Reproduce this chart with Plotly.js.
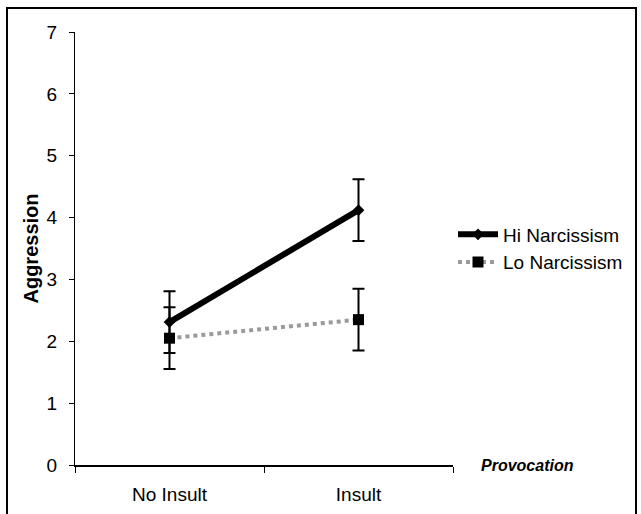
<!DOCTYPE html>
<html><head><meta charset="utf-8">
<script src="https://cdn.plot.ly/plotly-3.0.1.min.js"></script>
<style>body{margin:0;padding:0;background:#fff;} #wrap{position:relative;width:641px;height:514px;} #frame{position:absolute;left:6px;top:7px;width:627px;height:520px;border:2px solid #000;pointer-events:none;}</style>
</head><body>
<div id="wrap"><div id="chart" style="width:641px;height:514px;"></div><div id="frame"></div></div>
<script>
const categories = ["No Insult", "Insult"];
const hiValues = [2.31, 4.12];
const hiErrors = [0.5, 0.5];
const loValues = [2.05, 2.35];
const loErrors = [0.5, 0.5];
const yTicks = [0, 1, 2, 3, 4, 5, 6, 7];

const font = "Liberation Sans, Arial, sans-serif";
const traces = [
  {x: categories, y: hiValues, name: "Hi Narcissism", type: "scatter", mode: "lines+markers",
   line: {color: "#000", width: 6}, marker: {symbol: "diamond", size: 9, color: "#000"},
   error_y: {type: "data", array: hiErrors, visible: true, color: "#000", thickness: 2, width: 6}},
  {x: categories, y: loValues, name: "Lo Narcissism", type: "scatter", mode: "lines+markers",
   line: {color: "#9a9a9a", width: 4, dash: "dot"}, marker: {symbol: "square", size: 11, color: "#000"},
   error_y: {type: "data", array: loErrors, visible: true, color: "#000", thickness: 2, width: 6}}
];
const layout = {
  width: 641, height: 514,
  margin: {l: 75, r: 188, t: 32, b: 49},
  paper_bgcolor: "#fff", plot_bgcolor: "#fff",
  font: {family: font, size: 19, color: "#000"},
  showlegend: true,
  legend: {x: 1.0, y: 0.5, xanchor: "left", yanchor: "middle", font: {size: 19, family: font},
           bgcolor: "rgba(0,0,0,0)", itemwidth: 40, tracegroupgap: 0},
  xaxis: {type: "category", range: [-0.5, 1.5], showgrid: false, zeroline: false,
          showline: true, linecolor: "#000", linewidth: 1.5,
          ticks: "outside", tickson: "boundaries", ticklen: 6, tickcolor: "#000", tickwidth: 1,
          ticklabelstandoff: 12,
          tickfont: {size: 19, family: font}},
  yaxis: {range: [0, 7], tickvals: yTicks, showgrid: false, zeroline: false,
          showline: true, linecolor: "#000", linewidth: 1,
          ticks: "outside", ticklen: 5, tickcolor: "#000", tickwidth: 1,
          ticklabelstandoff: 8,
          tickfont: {size: 19, family: font},
          title: {text: "<b>Aggression</b>", font: {size: 20, family: font}, standoff: 2}},
  annotations: [
    {text: "<b><i>Provocation</i></b>", xref: "paper", yref: "y", x: 1.07, y: 0, xanchor: "left",
     yanchor: "middle", showarrow: false, font: {size: 16, family: font}}
  ]
};
Plotly.newPlot("chart", traces, layout, {displayModeBar: false, staticPlot: true});
</script>
</body></html>
